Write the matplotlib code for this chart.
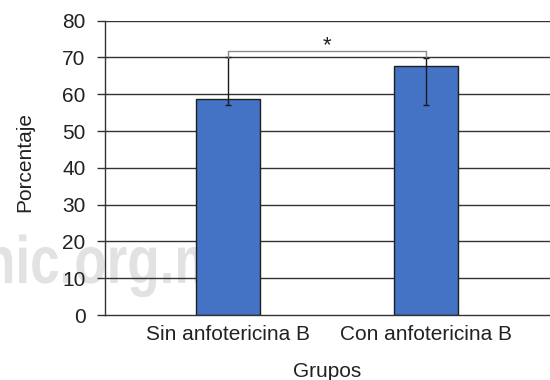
import matplotlib
matplotlib.use("Agg")
import matplotlib.pyplot as plt
from matplotlib.textpath import TextPath
from matplotlib.patches import PathPatch
from matplotlib.font_manager import FontProperties
from matplotlib.transforms import Affine2D

# Data
groups = ["Sin anfotericina B", "Con anfotericina B"]
values = [58.7, 67.8]
err_low = [1.5, 10.8]
err_high = [11.3, 2.0]
y_ticks = [0, 10, 20, 30, 40, 50, 60, 70, 80]
bracket_base = 70.0
bracket_top = 71.7
star_y = 73.2

plt.rcParams['font.family'] = ['Liberation Sans', 'DejaVu Sans']
FS = 15

fig = plt.figure(figsize=(5.5, 3.8), dpi=100)
ax = fig.add_axes([0.191, 0.171, 0.809, 0.7745])

x = list(range(len(groups)))

# horizontal grid lines behind the bars
for t in y_ticks[1:]:
    ax.axhline(t, color='#333333', lw=1.0, zorder=0.9)

# watermark: condensed bold lettering in pixel units
wm_path = TextPath((0, 0), "nic.org.m", size=1,
                   prop=FontProperties(family='Liberation Sans', weight='bold'))
wm = PathPatch(wm_path, facecolor='#e2e2e5', edgecolor='none', zorder=0.7,
               transform=Affine2D().scale(53, 67).translate(-17, 97),
               clip_on=False)
ax.add_artist(wm)

ax.bar(x, values, width=0.323, color='#4472C4', edgecolor='#1f1f1f',
       linewidth=1.0, zorder=2)
ax.errorbar(x, values, yerr=[err_low, err_high], fmt='none', ecolor='#1a1a1a',
            elinewidth=1.0, capsize=2.5, capthick=1.0, zorder=3)

# significance bracket
ax.plot([x[0], x[0], x[1], x[1]],
        [bracket_base, bracket_top, bracket_top, bracket_base],
        color='#8a8a8a', lw=1.0, zorder=3)
ax.text((x[0] + x[1]) / 2, star_y, "*", ha='center', va='center',
        fontsize=16, color='#222222', zorder=4)

ax.set_xlim(-0.621, 1.626)
ax.set_ylim(0, 80)
ax.set_yticks(y_ticks)
ax.set_xticks(x)
ax.set_xticklabels(groups)

for s in ['top', 'right']:
    ax.spines[s].set_visible(False)
ax.spines['left'].set_color('#333333')
ax.spines['bottom'].set_color('#333333')
ax.spines['left'].set_linewidth(1.0)
ax.spines['bottom'].set_linewidth(1.0)

ax.tick_params(axis='y', length=6, width=1.0, color='#333333',
               labelsize=FS, labelcolor='#222222', pad=8)
ax.tick_params(axis='x', length=0, labelsize=FS, labelcolor='#222222', pad=7)

ax.set_ylabel("Porcentaje", fontsize=FS, color='#222222')
ax.yaxis.set_label_coords(-0.158, 0.52)
ax.set_xlabel("Grupos", fontsize=FS, color='#222222', labelpad=13)

fig.savefig("out.png", dpi=100)
